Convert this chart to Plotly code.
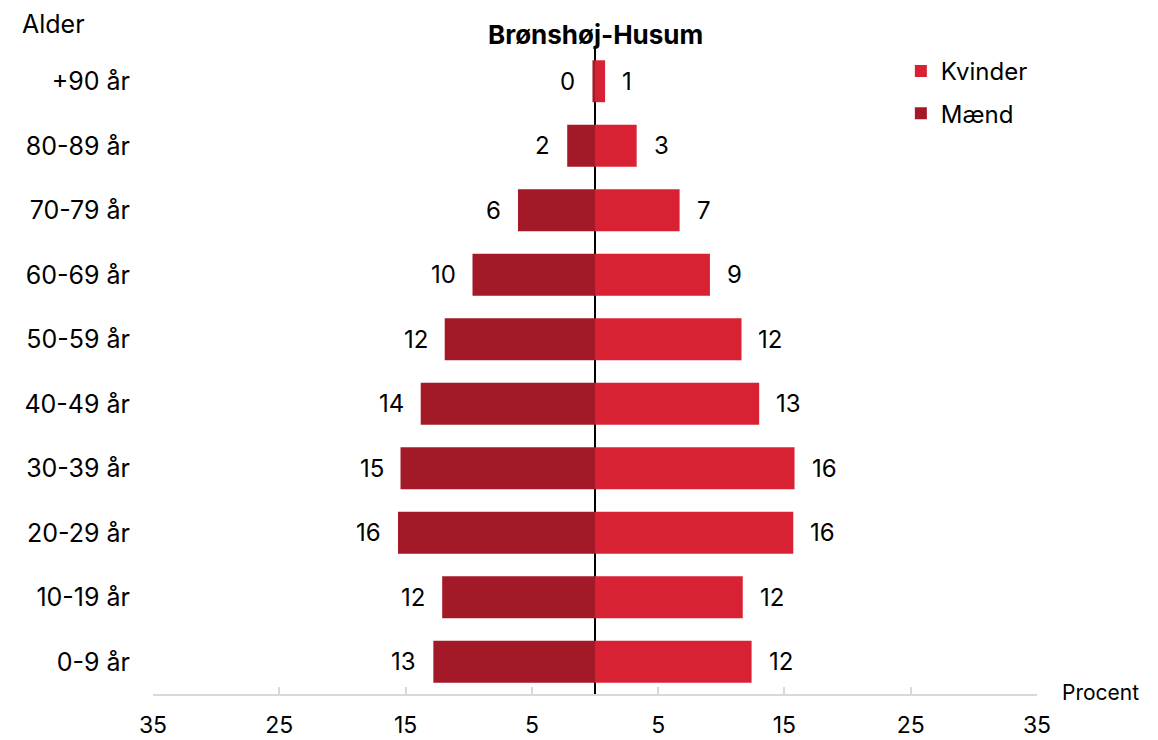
import plotly.graph_objects as go

# aldersgrupper, nederst til øverst
alder = ["0-9 år", "10-19 år", "20-29 år", "30-39 år", "40-49 år",
         "50-59 år", "60-69 år", "70-79 år", "80-89 år", "+90 år"]
maend = [12.8, 12.1, 15.6, 15.4, 13.8, 11.9, 9.7, 6.1, 2.2, 0.2]
kvinder = [12.4, 11.7, 15.7, 15.8, 13.0, 11.6, 9.1, 6.7, 3.3, 0.8]
tick_vals = [-35, -25, -15, -5, 5, 15, 25, 35]
tick_text = ["35", "25", "15", "5", "5", "15", "25", "35"]

FONT = "Inter"
RED = "#d82234"
DARK = "#a31927"

fig = go.Figure()
fig.add_trace(go.Bar(y=alder, x=kvinder, name="Kvinder", orientation="h",
                     legendgroup="k", marker=dict(color=RED, line_width=0)))
fig.add_trace(go.Bar(y=alder, x=[-v for v in maend], name="Mænd", orientation="h",
                     legendgroup="m", marker=dict(color=DARK, line_width=0)))

annotations = []
for a, k, m in zip(alder, kvinder, maend):
    annotations.append(dict(x=k, y=a, text=str(round(k)), showarrow=False,
                            xanchor="left", xshift=15))
    annotations.append(dict(x=-m, y=a, text=str(round(m)), showarrow=False,
                            xanchor="right", xshift=-15))

annotations += [
    dict(x=0, xref="x", y=1, yref="paper", yanchor="bottom", yshift=-3,
         text="<b>Brønshøj-Husum</b>", showarrow=False, font=dict(size=26)),
    dict(x=-0.151, xref="paper", y=1.039, yref="paper", xanchor="left",
         yanchor="middle", text="Alder", showarrow=False, font=dict(size=25)),
    dict(x=1.026, xref="paper", y=0.003, yref="paper", xanchor="left",
         yanchor="middle", text="Procent", showarrow=False, font=dict(size=21)),
]

# siden har 8px body-margin, så figuren gøres 8px mindre
fig.update_layout(
    width=1150, height=732,
    margin=dict(l=145, r=121, t=41, b=46, autoexpand=False),
    paper_bgcolor="white", plot_bgcolor="white",
    font=dict(family=FONT, size=24, color="black"),
    barmode="relative", bargap=0.35,
    annotations=annotations,
    legend=dict(x=0.846, y=1.0, xanchor="left", yanchor="top",
                font=dict(size=24), traceorder="grouped", tracegroupgap=8,
                bgcolor="rgba(0,0,0,0)"),
)
fig.update_xaxes(range=[-35, 35], tickvals=tick_vals, ticktext=tick_text,
                 tickfont=dict(size=23),
                 showgrid=False, showline=True, linecolor="#d9d9d9", linewidth=2,
                 ticks="inside", ticklen=7, tickcolor="#d9d9d9", tickwidth=2,
                 zeroline=True, zerolinecolor="black", zerolinewidth=1.5,
                 ticklabelstandoff=9, automargin=False, fixedrange=True)
fig.update_yaxes(type="category", categoryorder="array", categoryarray=alder,
                 tickfont=dict(size=25),
                 showgrid=False, showline=False, ticks="", ticklabelstandoff=22,
                 automargin=False, fixedrange=True)

fig.write_html("out.html")
